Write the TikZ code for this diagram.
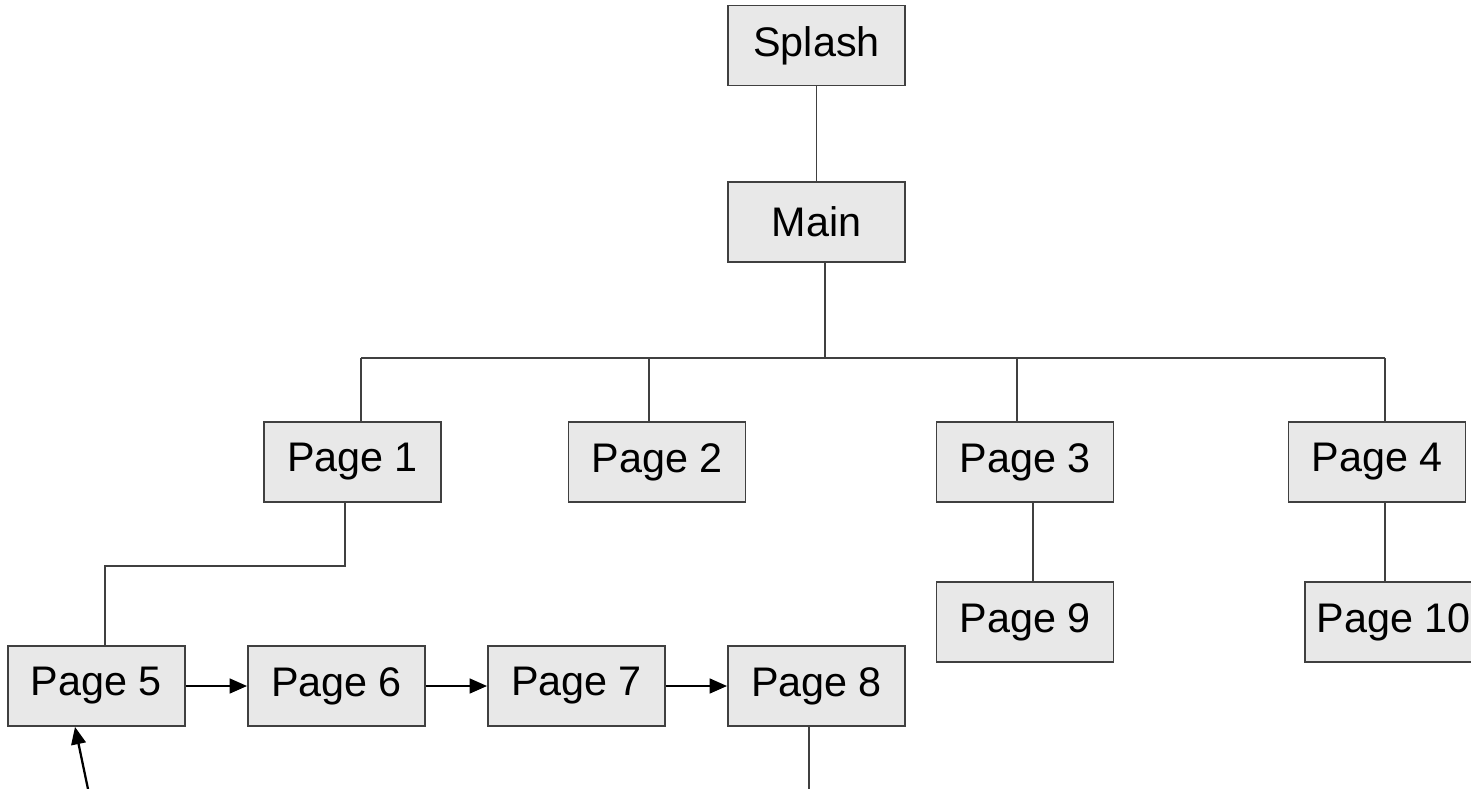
\documentclass[tikz,border=0pt]{standalone}
\usepackage{fontspec}
\setmainfont{Liberation Sans}
\usetikzlibrary{arrows.meta}
\definecolor{boxfill}{HTML}{E8E8E8}
\definecolor{linegray}{HTML}{404040}
\begin{document}
\begin{tikzpicture}[x=0.75pt,y=-0.75pt,
  pagebox/.style={draw=linegray, fill=boxfill, line width=1.4pt, minimum width=132.75pt, minimum height=60pt, inner sep=0pt, font=\fontsize{31}{36}\selectfont},
  conn/.style={draw=linegray, line width=1.4pt},
  flow/.style={draw=black, line width=1.7pt, -{Triangle[length=13pt,width=11pt]}}]
\useasboundingbox (0,0) rectangle (1471,789);
\node[pagebox] (Splash) at (816.5,45.5) {Splash};
\node[pagebox] (Main) at (816.5,222) {Main};
\node[pagebox] (P1) at (352.5,462) {Page 1};
\node[pagebox] (P2) at (657,462) {Page 2};
\node[pagebox] (P3) at (1025,462) {Page 3};
\node[pagebox] (P4) at (1377,462) {Page 4};
\node[pagebox] (P9) at (1025,622) {Page 9};
\node[pagebox] (P10) at (1393.5,622) {Page 10};
\node[pagebox] (P5) at (96.5,686) {Page 5};
\node[pagebox] (P6) at (336.5,686) {Page 6};
\node[pagebox] (P7) at (576.5,686) {Page 7};
\node[pagebox] (P8) at (816.5,686) {Page 8};
\coordinate (mx) at (825,358);
\coordinate (busL) at (361,358);
\coordinate (d2) at (649,358);
\coordinate (d3) at (1017,358);
\coordinate (busR) at (1385,358);
\coordinate (c39) at (1033,0);
\coordinate (k1) at (345,566);
\coordinate (k2) at (105,566);
\coordinate (end8) at (809,789);
\coordinate (tail5) at (88,789);
\coordinate (tip5) at (75,0);
\draw[conn] (Splash.south) -- (Main.north);
\draw[conn] (Main.south -| mx) -- (mx);
\draw[conn] (busL) -- (busR);
\draw[conn] (busL) -- (P1.north -| busL);
\draw[conn] (d2) -- (P2.north -| d2);
\draw[conn] (d3) -- (P3.north -| d3);
\draw[conn] (busR) -- (P4.north -| busR);
\draw[conn] (P3.south -| c39) -- (P9.north -| c39);
\draw[conn] (P4.south -| busR) -- (P10.north -| busR);
\draw[conn] (P1.south -| k1) -- (k1) -- (k2) -- (P5.north -| k2);
\draw[conn] (P8.south -| end8) -- (end8);
\draw[flow] (P5) -- (P6);
\draw[flow] (P6) -- (P7);
\draw[flow] (P7) -- (P8);
\draw[flow] (tail5) -- (P5.south -| tip5);
\end{tikzpicture}
\end{document}
